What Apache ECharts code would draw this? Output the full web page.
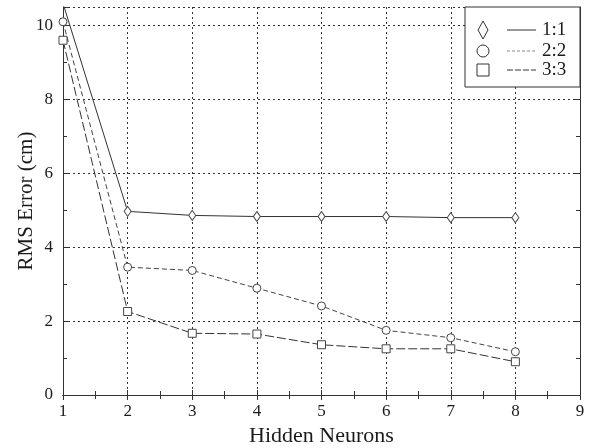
<!DOCTYPE html>
<html>
<head>
<meta charset="utf-8">
<script src="https://cdn.jsdelivr.net/npm/echarts@6/dist/echarts.min.js"></script>
<style>
  html, body { margin: 0; padding: 0; background: #fff; }
  #chart { width: 591px; height: 448px; }
</style>
</head>
<body>
<div id="chart"></div>
<script>
// Hidden neuron count vs. RMS error for three network configurations
const hiddenNeurons = [1, 2, 3, 4, 5, 6, 7, 8];
const seriesNames = ['1:1', '2:2', '3:3'];
const rms11 = [10.6, 4.97, 4.86, 4.83, 4.83, 4.83, 4.80, 4.80];
const rms22 = [10.1, 3.46, 3.37, 2.89, 2.41, 1.75, 1.55, 1.17];
const rms33 = [9.6, 2.26, 1.67, 1.65, 1.36, 1.25, 1.25, 0.90];
const xTicks = [1, 2, 3, 4, 5, 6, 7, 8, 9];
const yTicks = [0, 2, 4, 6, 8, 10];

const FONT = '"Liberation Serif", "DejaVu Serif", serif';
const INK = '#1a1a1a';

const chart = echarts.init(document.getElementById('chart'), null, { renderer: 'canvas' });

function pairs(vals) {
  return hiddenNeurons.map((x, i) => [x, vals[i]]);
}

const styles = [
  { symbol: 'diamond', size: [7, 10], type: 'solid', color: '#333' },
  { symbol: 'circle', size: 8, type: [5, 3], color: '#444' },
  { symbol: 'rect', size: 8, type: [9, 3], color: '#333' }
];

const values = [rms11, rms22, rms33];

const series = values.map((vals, i) => ({
  name: seriesNames[i],
  type: 'line',
  data: pairs(vals),
  symbol: styles[i].symbol,
  symbolSize: styles[i].size,
  showAllSymbol: true,
  clip: true,
  lineStyle: { color: styles[i].color, width: 1, type: styles[i].type },
  itemStyle: { color: '#fff', borderColor: '#444', borderWidth: 1 },
  emphasis: { disabled: true },
  z: 3
}));

const axisLineStyle = { lineStyle: { color: '#333', width: 1 } };
const gridDotted = { show: true, lineStyle: { color: '#333', type: [2, 3], width: 1 } };

// Legend: marker, line sample and name per row, boxed in the upper right
const legendLeft = 465, legendTop = 7, legendW = 115, legendH = 80;
const rowY = [30, 51, 70];
const legendGraphics = [
  {
    type: 'rect',
    shape: { x: legendLeft, y: legendTop, width: legendW, height: legendH },
    style: { fill: '#fff', stroke: '#333', lineWidth: 1 },
    z: 10
  }
];
const legendMarkers = [
  { type: 'polygon', shape: (y) => ({ points: [[483, y - 9], [488, y], [483, y + 9], [478, y]] }) },
  { type: 'circle', shape: (y) => ({ cx: 483, cy: y, r: 6 }) },
  { type: 'rect', shape: (y) => ({ x: 477, y: y - 6, width: 12, height: 12 }) }
];
seriesNames.forEach((name, i) => {
  const y = rowY[i];
  legendGraphics.push({
    type: legendMarkers[i].type,
    shape: legendMarkers[i].shape(y),
    style: { fill: '#fff', stroke: '#333', lineWidth: 1 },
    z: 11
  });
  legendGraphics.push({
    type: 'line',
    shape: { x1: 507, y1: y, x2: 536, y2: y },
    style: {
      stroke: i === 1 ? '#888' : '#333',
      lineWidth: 1,
      lineDash: i === 0 ? null : (i === 1 ? [3, 2] : [6, 2])
    },
    z: 11
  });
  legendGraphics.push({
    type: 'text',
    x: 542, y: y,
    style: {
      text: name, font: '19px ' + FONT, fill: INK,
      textVerticalAlign: 'middle', textAlign: 'left'
    },
    z: 11
  });
});

chart.setOption({
  animation: false,
  backgroundColor: '#fff',
  grid: {
    left: 63, right: 11, top: 7, bottom: 53,
    containLabel: false, outerBoundsMode: 'none'
  },
  xAxis: [
    {
      type: 'value', min: 1, max: 9, interval: 1,
      axisLine: axisLineStyle,
      axisTick: { show: true, inside: true, length: 5, lineStyle: { color: '#333' } },
      minorTick: { show: true, splitNumber: 2, length: 4, lineStyle: { color: '#333' } },
      axisLabel: {
        fontFamily: FONT, fontSize: 17, color: INK, margin: 8,
        formatter: (v) => (xTicks.includes(v) ? String(v) : '')
      },
      splitLine: gridDotted,
      name: 'Hidden Neurons',
      nameLocation: 'middle', nameGap: 30, nameMoveOverlap: false,
      nameTextStyle: { fontFamily: FONT, fontSize: 22, color: INK }
    },
    {
      type: 'value', min: 1, max: 9, interval: 1, position: 'top',
      axisLine: axisLineStyle,
      axisTick: { show: true, inside: true, length: 5, lineStyle: { color: '#333' } },
      minorTick: { show: true, splitNumber: 2, length: 4, lineStyle: { color: '#333' } },
      axisLabel: { show: false },
      splitLine: { show: false }
    }
  ],
  yAxis: [
    {
      type: 'value', min: 0, max: 10.5, interval: 2,
      axisLine: axisLineStyle,
      axisTick: { show: true, inside: true, length: 5, lineStyle: { color: '#333' } },
      minorTick: { show: true, splitNumber: 2, length: 4, lineStyle: { color: '#333' } },
      axisLabel: {
        fontFamily: FONT, fontSize: 17, color: INK, margin: 10,
        formatter: (v) => (yTicks.includes(v) ? String(v) : '')
      },
      splitLine: gridDotted,
      name: 'RMS Error (cm)',
      nameLocation: 'middle', nameGap: 26, nameMoveOverlap: false,
      nameTextStyle: { fontFamily: FONT, fontSize: 21, color: INK }
    },
    {
      type: 'value', min: 0, max: 10.5, interval: 2, position: 'right',
      axisLine: axisLineStyle,
      axisTick: { show: true, inside: true, length: 5, lineStyle: { color: '#333' } },
      minorTick: { show: true, splitNumber: 2, length: 4, lineStyle: { color: '#333' } },
      axisLabel: { show: false },
      splitLine: { show: false }
    }
  ],
  series: series,
  graphic: legendGraphics
});
</script>
</body>
</html>
